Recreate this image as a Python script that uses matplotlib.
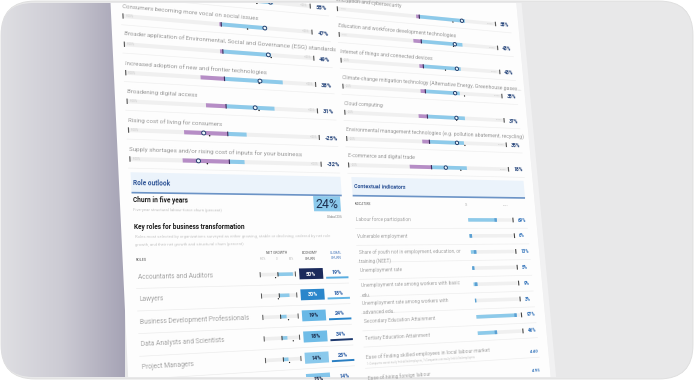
import numpy as np
import matplotlib
matplotlib.use("Agg")
import matplotlib.pyplot as plt
from matplotlib.transforms import Transform, Affine2D
from matplotlib.patches import Polygon, Rectangle, Circle, FancyBboxPatch
from matplotlib.lines import Line2D
from matplotlib.colors import LinearSegmentedColormap, Normalize

plt.rcParams["font.family"] = ["Roboto", "DejaVu Sans"]

W, H = 694, 380

# ==========================
# DATA
# ==========================
trend_labels = [
    "Investments to facilitate the green transition of your business",
    "Consumers becoming more vocal on social issues",
    "Broader application of Environmental, Social and Governance (ESG) standards",
    "Increased adoption of new and frontier technologies",
    "Broadening digital access",
    "Rising cost of living for consumers",
    "Supply shortages and/or rising cost of inputs for your business",
]
trend_neg = [3, 2, 3, 25, 21, 45, 48]
trend_pos = [58, 49, 52, 63, 52, 20, 16]
trend_net = [55, 47, 49, 38, 31, -25, -32]
trend_global = [40, 28, 52, 37, 35, -19, -23]

tech_labels = [
    "Encryption and cybersecurity",
    "Education and workforce development technologies",
    "Internet of things and connected devices",
    "Climate-change mitigation technology (Alternative Energy, Greenhouse gases...",
    "Cloud computing",
    "Environmental management technologies (e.g. pollution abatement, recycling)",
    "E-commerce and digital trade",
]
tech_neg = [4, 10, 5, 6, 11, 9, 27]
tech_pos = [59, 53, 48, 44, 48, 44, 45]
tech_net = [55, 43, 43, 38, 37, 35, 18]
tech_global = [43, 41, 28, 50, 37, 45, 37]

churn_total = 24
churn_global = 23

role_names = ["Accountants and Auditors", "Lawyers", "Business Development Professionals",
              "Data Analysts and Scientists", "Project Managers", "Sustainability Specialists"]
role_growth = [53, 36, 21, 19, 18, 20]
role_growth_global = [-9, -4, 27, 39, 21, 30]
role_churn = [50, 30, 19, 18, 14, 15]
role_churn_global = [19, 18, 24, 34, 25, 14]

ind_labels = [
    "Labour force participation",
    "Vulnerable employment",
    "Share of youth not in employment, education, or\ntraining (NEET)",
    "Unemployment rate",
    "Unemployment rate among workers with basic\nedu.",
    "Unemployment rate among workers with\nadvanced edu.",
    "Secondary Education Attainment",
    "Tertiary Education Attainment",
]
ind_values = [69, 6, 13, 5, 9, 3, 97, 46]

score_labels = ["Ease of finding skilled employees in local labour market",
                "Ease of hiring foreign labour"]
score_notes = ["1=Companies cannot easily find skilled employees, 7=Companies can easily find skilled employees", ""]
score_values = [4.40, 4.95]

# ==========================
# COLOURS
# ==========================
PINK = "#b68dc6"
BLUE = "#8dcaea"
NAVY = "#25447a"
GREY_TXT = "#979797"
LIGHT_TXT = "#a4a4a4"
churn_cmap = LinearSegmentedColormap.from_list(
    "churn", [(0.0, "#a4d6f1"), (0.25, "#62b5e5"), (0.5, "#2a86cb"), (1.0, "#1b2a5c")])

# ==========================
# PAGE GEOMETRY (photo of a tilted report page)
# ==========================
VP_U = (2590.0, 226.0)     # vanishing point of the page's horizontal lines, pixels
VP_V = (-315.0, -9044.0)   # vanishing point of the page's vertical lines
ORIGIN = (123.0, 16.0)     # page origin: left tick of the first visible trend row
KU, KV = 4.367e-4, -1.0866e-4

HM = np.array([[KU * VP_U[0], KV * VP_V[0], ORIGIN[0]],
               [KU * VP_U[1], KV * VP_V[1], ORIGIN[1]],
               [KU, KV, 1.0]])


class PageToPixels(Transform):
    input_dims = 2
    output_dims = 2

    def transform_non_affine(self, values):
        values = np.asarray(values, dtype=float)
        pts = values.reshape(-1, 2)
        h = np.column_stack([pts, np.ones(len(pts))]) @ HM.T
        out = h[:, :2] / h[:, 2:3]
        return out.reshape(values.shape)


fig = plt.figure(figsize=(W / 100, H / 100), dpi=100)
fig.patch.set_facecolor("white")
pix = Affine2D().scale(1 / W, -1 / H).translate(0, 1) + fig.transFigure
pixup = Affine2D().scale(1 / W, 1 / H) + fig.transFigure
page = PageToPixels()
T = page + pix

frame = FancyBboxPatch((1, 1), W - 2, H - 2, boxstyle="round,pad=0,rounding_size=34",
                       transform=pixup, facecolor="#e8e8e9", edgecolor="#dddddd",
                       lw=0.6, zorder=-3)
fig.add_artist(frame)
clip = FancyBboxPatch((1, 3), W - 2, H - 6, boxstyle="round,pad=0,rounding_size=32",
                      transform=pixup)

# dark backdrop left of the page
ax = fig.add_axes([0, 0, 1, 1], zorder=-2)
ax.set_xlim(0, W)
ax.set_ylim(H, 0)
ax.axis("off")
xs = np.linspace(0, 1, 200)
stops = np.array([[0.875, 0.875, 0.89], [0.80, 0.795, 0.83], [0.65, 0.64, 0.71]])
grad = np.stack([np.interp(xs, [0, 0.5, 1], stops[:, c]) for c in range(3)], axis=-1)
im = ax.imshow(grad[None, :, :], extent=[0, 125, H, 0], aspect="auto",
               interpolation="bilinear")
im.set_clip_path(clip)


def add(artist):
    artist.set_clip_path(clip)
    fig.add_artist(artist)
    return artist


def rect(u, v, w, h, color, z=1):
    return add(Rectangle((u, v), w, h, transform=T, facecolor=color, edgecolor="none", zorder=z))


def seg(u0, v0, u1, v1, color, lw, z=2):
    return add(Line2D([u0, u1], [v0, v1], transform=T, color=color, lw=lw, zorder=z,
                      solid_capstyle="butt"))


def dot(u, v, r, face, edge="none", lw=0.0, z=3):
    return add(Circle((u, v), r, transform=T, facecolor=face, edgecolor=edge, lw=lw, zorder=z))


def put(u, v, s, size, color, weight="normal", ha="left", va="center", z=5):
    p = page.transform(np.array([[u, v], [u + 1.0, v]]))
    dx, dy = p[1] - p[0]
    ang = -np.degrees(np.arctan2(dy, dx))
    k = np.hypot(dx, dy)
    t = fig.text(u, v, s, transform=T, rotation=ang, rotation_mode="anchor",
                 fontsize=size * k, color=color, fontweight=weight, ha=ha, va=va, zorder=z)
    t.set_clip_path(clip)
    return t


# the page itself, with a faint shadow along its right edge
add(Polygon([(440, -90), (447, -90), (447, 420), (440, 420)], closed=True, transform=T,
            facecolor="#f1f1f2", edgecolor="none", zorder=-1.5))
add(Polygon([(-11, -90), (440, -90), (440, 420), (-11, 420)], closed=True, transform=T,
            facecolor="#fdfdfd", edgecolor="none", zorder=-1))

# ==========================
# TREND / TECHNOLOGY ROWS
# ==========================
ROW0, ROW_STEP = -28.6, 28.6
TRACK, PCT, BAR_H = 190, 0.95, 4.2


def trend_column(u0, labels, neg, pos, net, glob):
    zero = u0 + TRACK / 2
    for i, lab in enumerate(labels):
        v = ROW0 + ROW_STEP * i
        put(u0, v - 10, lab, 4.1, GREY_TXT)
        rect(u0, v - BAR_H / 2, TRACK, BAR_H, "#f0f0f0", 1)
        rect(zero - neg[i] * PCT, v - BAR_H / 2, neg[i] * PCT, BAR_H, PINK, 2)
        rect(zero, v - BAR_H / 2, pos[i] * PCT, BAR_H, BLUE, 2)
        seg(zero, v - 2.4, zero, v + 2.4, "#3c2b5a", 0.8)
        seg(u0, v - 2.7, u0, v + 2.7, "#555555", 0.8)
        seg(u0 + TRACK, v - 2.7, u0 + TRACK, v + 2.7, "#555555", 0.8)
        put(u0 + 2.5, v, "-100%", 2.0, "#c6c6c6")
        put(u0 + TRACK - 2.5, v, "+100%", 2.0, "#c6c6c6", ha="right")
        dot(zero + glob[i] * PCT, v + 2.6, 0.75, "#1a1a1a", z=3)
        dot(zero + net[i] * PCT, v, 2.0, "#eef7fc", edge="#24406f", lw=0.7, z=4)
        put(u0 + TRACK + 6, v + 0.5, f"{net[i]}%", 4.6, NAVY, weight="bold")
        seg(u0 - 2, v + 9, u0 + TRACK + 20, v + 9, "#efefef", 0.5, z=0)


trend_column(0, trend_labels, trend_neg, trend_pos, trend_net, trend_global)
trend_column(220, tech_labels, tech_neg, tech_pos, tech_net, tech_global)

# ==========================
# SECTION BANDS
# ==========================
for u0, u1, title in [(0, 210, "Role outlook"), (222, 428, "Contextual indicators")]:
    rect(u0, 156, u1 - u0, 20, "#ebf3fb", 0)
    seg(u0, 176, u1, 176, "#6b93c6", 1.2)
    put(u0 + 2, 166.5, title, 4.3, "#2f5597", weight="bold")

# ==========================
# ROLE OUTLOOK
# ==========================
put(1, 183.5, "Churn in five years", 4.3, "#1a1a1a", weight="bold")
put(1, 193, "Five-year structural labour-force churn (percent)", 2.8, "#c4c4c4")
rect(179, 177, 29, 16, "#8ccaec", 1)
put(193.5, 185.5, f"{churn_total}%", 9.5, "#1c2c4c", ha="center")
put(208, 198.5, f"Global {churn_global}%", 2.4, "#777777", ha="right")

put(1, 209.5, "Key roles for business transformation", 4.3, "#1a1a1a", weight="bold")
put(1, 219, "Roles most selected by organizations surveyed as either growing, stable or "
            "declining, ordered by net role", 2.8, "#c8c8c8")
put(1, 227, "growth, and their net growth and structural churn (percent)", 2.8, "#c8c8c8")

NG_ZERO, NG_SCALE, NG_LIM = 137, 0.29, 62
put(1, 241, "ROLES", 2.5, "#555555")
put(NG_ZERO, 236.5, "NET GROWTH", 2.5, "#555555", ha="center")
for tick, lab in [(-50, "-50%"), (0, "0"), (50, "50%")]:
    put(NG_ZERO + tick * NG_SCALE, 242.5, lab, 2.2, "#bbbbbb", ha="center")
put(171, 236.5, "ECONOMY", 2.5, "#555555", ha="center")
put(171, 242.5, "CHURN", 2.5, "#555555", ha="center")
put(199, 236.5, "GLOBAL", 2.5, "#3b6fb6", ha="center")
put(199, 242.5, "CHURN", 2.5, "#3b6fb6", ha="center")

box_norm = Normalize(10, 50)
glob_norm = Normalize(12, 36)
for i, name in enumerate(role_names):
    v = 258 + 21.5 * i
    put(2, v, name, 4.3, LIGHT_TXT)
    lo, hi = NG_ZERO - NG_LIM * NG_SCALE, NG_ZERO + NG_LIM * NG_SCALE
    rect(lo, v - 1.8, hi - lo, 3.6, "#eeeeee", 1)
    rect(NG_ZERO, v - 1.8, role_growth[i] * NG_SCALE, 3.6, BLUE, 2)
    seg(NG_ZERO, v - 2.2, NG_ZERO, v + 2.2, "#333333", 0.7)
    seg(lo, v - 2.6, lo, v + 2.6, "#555555", 0.7)
    seg(hi, v - 2.6, hi, v + 2.6, "#555555", 0.7)
    dot(NG_ZERO + role_growth_global[i] * NG_SCALE, v + 3.3, 0.65, "#1a1a1a")

    c = role_churn[i]
    rect(159, v - 5.6, 25, 11.2, churn_cmap(box_norm(c)), 1)
    put(171.5, v + 0.3, f"{c}%", 4.1, "white" if c >= 28 else "#1c2c4c",
        weight="bold", ha="center")

    g = role_churn_global[i]
    put(199, v - 0.8, f"{g}%", 4.1, "#2d5fa6", weight="bold", ha="center")
    seg(187, v + 4.6, 211, v + 4.6, churn_cmap(glob_norm(g)), 1.4)
    seg(0, v + 10.7, 211, v + 10.7, "#ececec", 0.5, z=0)

# ==========================
# CONTEXTUAL INDICATORS
# ==========================
IND_ZERO, IND_SCALE, IND_TICK = 354, 0.515, 410
put(224, 185, "INDICATORS", 2.3, "#555555")
put(IND_ZERO, 185, "0%", 2.2, "#bbbbbb", ha="center")
put(IND_ZERO + 100 * IND_SCALE - 3, 185, "100%", 2.2, "#bbbbbb", ha="center")

for i, lab in enumerate(ind_labels):
    v = 201.6 + 18 * i
    lines = lab.split("\n")
    if len(lines) == 1:
        put(224, v, lines[0], 3.8, LIGHT_TXT)
    else:
        put(224, v - 1.5, lines[0], 3.8, LIGHT_TXT)
        put(224, v + 8, lines[1], 3.8, LIGHT_TXT)
    val = ind_values[i]
    rect(IND_ZERO, v - 2, IND_TICK - IND_ZERO - 2, 4, "#f0f0f0", 1)
    rect(IND_ZERO, v - 2, val * IND_SCALE, 4, BLUE, 2)
    mark = min(3.0, val * IND_SCALE)
    rect(IND_ZERO + val * IND_SCALE - mark, v - 2, mark, 4, "#5b9fd2", 2)
    seg(IND_TICK, v - 2.7, IND_TICK, v + 2.7, "#444444", 0.8)
    put(IND_TICK + 6, v + 0.3, f"{val}%", 4.2, "#3a78bd", weight="bold")
    if i < len(ind_labels) - 1:
        seg(222, v + 9.5, 428, v + 9.5, "#eeeeee", 0.5, z=0)

for i, lab in enumerate(score_labels):
    v = 346 + 22 * i
    seg(222, v - 10, 428, v - 10, "#eeeeee", 0.5, z=0)
    put(224, v, lab, 3.9, LIGHT_TXT)
    if score_notes[i]:
        put(224, v + 7.5, score_notes[i], 2.0, "#c4c4c4")
    put(428, v + 5, f"{score_values[i]:.2f}", 4.0, "#3a78bd", weight="bold", ha="right")

fig.savefig("out.png", dpi=100)
